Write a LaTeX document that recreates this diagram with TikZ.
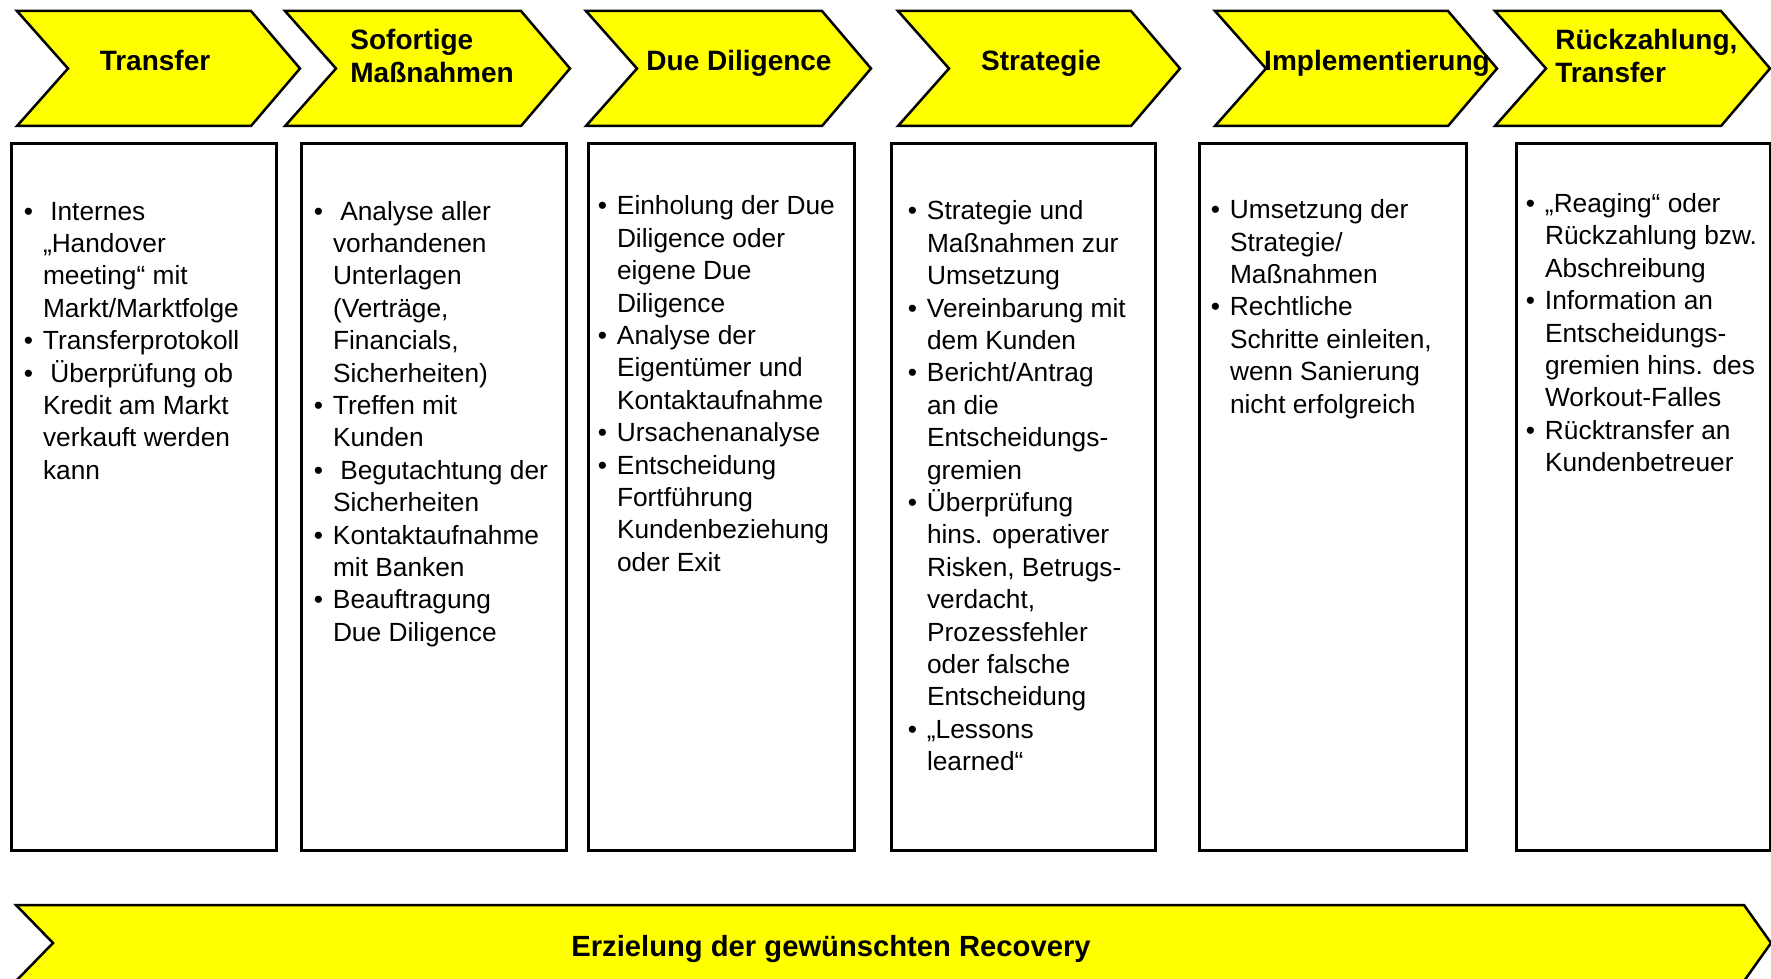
\documentclass[tikz,border=0pt]{standalone}
\usepackage{fontspec}
\setmainfont{Liberation Sans}
\usetikzlibrary{positioning}

\definecolor{phaseyellow}{RGB}{255,255,0}

% bullet and continuation indent for the step lists
\newcommand{\ibul}{\strut\makebox[9.6pt][l]{\textbullet}}
\newcommand{\icont}{\hspace*{9.6pt}}

\tikzset{
  phase/.style={draw=black, line width=1.25pt, fill=phaseyellow, line join=miter},
  head/.style={font=\fontsize{14}{16.25}\selectfont\bfseries, inner sep=0pt},
  panel/.style={draw=black, line width=1.3pt, fill=white, minimum height=353.5pt, inner sep=0pt, anchor=north west},
  items/.style={font=\fontsize{13.15}{16.2}\selectfont, align=left, inner sep=0pt, anchor=north west},
}

\begin{document}
\begin{tikzpicture}[x=0.5pt, y=-0.5pt]
\useasboundingbox (0,0) rectangle (1771,979);

% phase chevrons
\foreach \l/\t in {17/300, 285/570, 586/871, 898/1180, 1215/1497, 1495/1770}
  \draw[phase] (\l,11) -- (\t-49,11) -- (\t,68.5) -- (\t-49,126) -- (\l,126) -- (\l+51,68.5) -- cycle;

\node[head, anchor=base] (h1) at (155,70.5) {Transfer};
\node[head, anchor=west, align=left] (h2) at (350,59.75) {\strut Sofortige\\\strut Maßnahmen};
\node[head, anchor=base] (h3) at (739,70.5) {Due Diligence};
\node[head, anchor=base] (h4) at (1041,70.5) {Strategie};
\node[head, anchor=base] (h5) at (1377,70.5) {Implementierung};
\node[head, anchor=west, align=left] (h6) at (1555,59.75) {\strut Rückzahlung,\\\strut Transfer};

% one panel per phase
\foreach \x/\w [count=\i] in {10/265, 300/265, 587/266, 890/264, 1198/267, 1515/254}
  \node[panel, minimum width=\w*0.5pt] (b\i) at (\x,142) {};

\node[items, below right=27.5pt and 6.7pt of b1.north west] (t1) {%
  \ibul\ Internes\\
  \icont„Handover\\
  \icont meeting“ mit\\
  \icont Markt/Marktfolge\\
  \ibul Transferprotokoll\\
  \ibul\ Überprüfung ob\\
  \icont Kredit am Markt\\
  \icont verkauft werden\\
  \icont kann};

\node[items, below right=27.5pt and 6.7pt of b2.north west] (t2) {%
  \ibul\ Analyse aller\\
  \icont vorhandenen\\
  \icont Unterlagen\\
  \icont (Verträge,\\
  \icont Financials,\\
  \icont Sicherheiten)\\
  \ibul Treffen mit\\
  \icont Kunden\\
  \ibul\ Begutachtung der\\
  \icont Sicherheiten\\
  \ibul Kontaktaufnahme\\
  \icont mit Banken\\
  \ibul Beauftragung\\
  \icont Due Diligence};

\node[items, below right=24.9pt and 5.2pt of b3.north west] (t3) {%
  \ibul Einholung der Due\\
  \icont Diligence oder\\
  \icont eigene Due\\
  \icont Diligence\\
  \ibul Analyse der\\
  \icont Eigentümer und\\
  \icont Kontaktaufnahme\\
  \ibul Ursachenanalyse\\
  \ibul Entscheidung\\
  \icont Fortführung\\
  \icont Kundenbeziehung\\
  \icont oder Exit};

\node[items, below right=27.4pt and 8.7pt of b4.north west] (t4) {%
  \ibul Strategie und\\
  \icont Maßnahmen zur\\
  \icont Umsetzung\\
  \ibul Vereinbarung mit\\
  \icont dem Kunden\\
  \ibul Bericht/Antrag\\
  \icont an die\\
  \icont Entscheidungs-\\
  \icont gremien\\
  \ibul Überprüfung\\
  \icont hins. operativer\\
  \icont Risken, Betrugs-\\
  \icont verdacht,\\
  \icont Prozessfehler\\
  \icont oder falsche\\
  \icont Entscheidung\\
  \ibul„Lessons\\
  \icont learned“};

\node[items, below right=26.8pt and 6.2pt of b5.north west] (t5) {%
  \ibul Umsetzung der\\
  \icont Strategie/\\
  \icont Maßnahmen\\
  \ibul Rechtliche\\
  \icont Schritte einleiten,\\
  \icont wenn Sanierung\\
  \icont nicht erfolgreich};

\node[items, below right=23.7pt and 5.2pt of b6.north west] (t6) {%
  \ibul„Reaging“ oder\\
  \icont Rückzahlung bzw.\\
  \icont Abschreibung\\
  \ibul Information an\\
  \icont Entscheidungs-\\
  \icont gremien hins. des\\
  \icont Workout-Falles\\
  \ibul Rücktransfer an\\
  \icont Kundenbetreuer};

% overall goal
\draw[phase] (16,905) -- (1744,905) -- (1771,943) -- (1744,981) -- (16,981) -- (53,943) -- cycle;
\node[font=\fontsize{14.6}{17}\selectfont\bfseries, inner sep=0pt, anchor=base] (goal) at (831,956) {Erzielung der gewünschten Recovery};
\end{tikzpicture}
\end{document}
